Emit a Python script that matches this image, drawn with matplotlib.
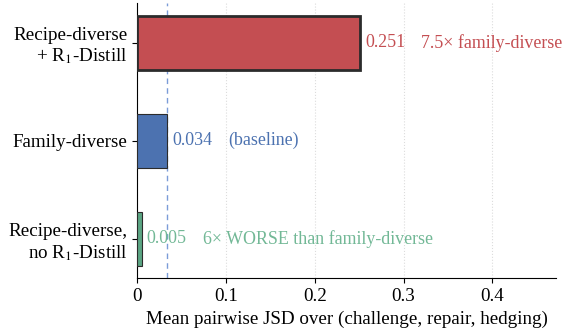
import matplotlib.pyplot as plt

LABELS = ["Recipe-diverse\n+ R$_1$-Distill", "Family-diverse", "Recipe-diverse,\nno R$_1$-Distill"]
VALUES = [0.251, 0.034, 0.005]
NOTES = ["7.5\u00d7 family-diverse", "(baseline)", "6\u00d7 WORSE than family-diverse"]
BASELINE = 0.034
X_TICKS = [0, 0.1, 0.2, 0.3, 0.4]
X_TICK_LABELS = ["0", "0.1", "0.2", "0.3", "0.4"]

BAR_COLORS = ["#C44E52", "#4C72B0", "#5BA583"]
TEXT_COLORS = ["#C44E52", "#4C72B0", "#72B896"]
EDGE_WIDTHS = [2.0, 0.8, 0.8]

plt.rcParams.update({
    "font.family": ["Liberation Serif", "DejaVu Serif"],
    "font.size": 13.7,
    "mathtext.fontset": "stix",
})

fig, ax = plt.subplots(figsize=(5.62, 3.36), dpi=100)
ypos = [0, 1, 2]

for y, v, c, lw in zip(ypos, VALUES, BAR_COLORS, EDGE_WIDTHS):
    ax.barh(y, v, height=0.55, color=c, edgecolor="#2b2b2b", linewidth=lw, zorder=3)

for y, v, note, tc in zip(ypos, VALUES, NOTES, TEXT_COLORS):
    ax.text(v + 0.0055, y, f"{v:.3f}", va="center", ha="left", color=tc, fontsize=12.9, zorder=4)
    ax.text(v + 0.069, y, note, va="center", ha="left", color=tc, fontsize=12.9, zorder=4)

ax.axvline(BASELINE, color="#7B9CD8", linestyle=(0, (4, 3)), linewidth=1.0, zorder=2)

ax.set_yticks(ypos)
ax.set_yticklabels(LABELS)
ax.set_ylim(2.4, -0.4)
ax.set_xlim(0, 0.472)
ax.set_xticks(X_TICKS)
ax.set_xticklabels(X_TICK_LABELS)
ax.set_xlabel("Mean pairwise JSD over (challenge, repair, hedging)")
ax.grid(axis="x", linestyle=":", color="#dcdcdc", linewidth=0.8, zorder=0)
ax.spines["top"].set_visible(False)
ax.spines["right"].set_visible(False)

fig.subplots_adjust(left=0.244, right=0.99, top=0.99, bottom=0.172)
fig.savefig("out.png", dpi=100)
